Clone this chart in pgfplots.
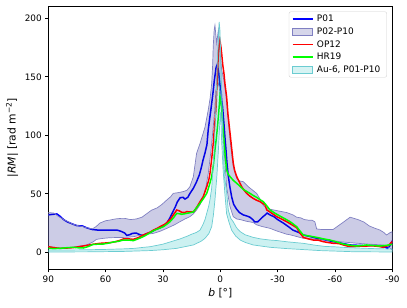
\documentclass[border=0pt]{standalone}
\usepackage{pgfplots}
\pgfplotsset{compat=1.18}
\usepackage{fontspec}
\setmainfont{DejaVu Sans}
\definecolor{bandA}{rgb}{0.1,0.1,0.55}
\definecolor{bandAedge}{rgb}{0.5,0.5,0.76}
\definecolor{bandAleg}{rgb}{0.8,0.8,0.9}
\definecolor{bandB}{rgb}{0.0,0.72,0.72}
\definecolor{bandBedge}{rgb}{0.42,0.8,0.82}
\definecolor{bandBleg}{rgb}{0.8,0.94,0.94}
\definecolor{lime}{rgb}{0,1,0}
\pgfplotsset{
  legP/.style={legend image code/.code={\draw[sharp corners, blue, line width=1.5bp] (0bp,0bp) -- (20bp,0bp);}},
  legO/.style={legend image code/.code={\draw[sharp corners, red, line width=1.5bp] (0bp,0bp) -- (20bp,0bp);}},
  legH/.style={legend image code/.code={\draw[sharp corners, lime, line width=1.5bp] (0bp,0bp) -- (20bp,0bp);}},
  legA/.style={legend image code/.code={\draw[sharp corners, fill=bandAleg, draw=bandAedge, line width=0.7bp] (0bp,-3.3bp) rectangle (20bp,3.3bp);}},
  legB/.style={legend image code/.code={\draw[sharp corners, fill=bandBleg, draw=bandBedge, line width=0.7bp] (0bp,-3.3bp) rectangle (20bp,3.3bp);}},
}
\begin{document}
\begin{tikzpicture}
\begin{axis}[
  at={(0,0)}, anchor=south west,
  width=344bp, height=263.3bp, scale only axis,
  x dir=reverse,
  xmin=-90, xmax=90, ymin=-14.5, ymax=210.5,
  xtick={-90,-60,-30,0,30,60,90},
  ytick={0,50,100,150,200},
  tick align=outside, major tick length=3bp,
  xtick pos=bottom, ytick pos=left,
  axis line style={line width=0.7bp},
  every tick/.style={black, line width=0.7bp},
  /pgf/number format/assume math mode=true,
  ticklabel style={font=\fontsize{8.9}{10.5}\selectfont},
  label style={font=\fontsize{10.8}{12.5}\selectfont},
  xlabel={\textit{b} [°]},
  ylabel={|\textit{RM}| [rad m\textsuperscript{−2}]},
  xlabel style={at={(axis description cs:0.5,-0.092)}, anchor=center},
  ylabel style={at={(axis description cs:-0.105,0.5)}, anchor=center},
  legend style={at={(0.9845,0.979)}, anchor=north east, draw=black!18, rounded corners=2bp,
    fill=white, fill opacity=0.8, text opacity=1, draw opacity=1,
    font=\fontsize{9}{10.5}\selectfont, row sep=2.2bp, inner xsep=3bp, inner ysep=2bp,
    nodes={inner xsep=3.5bp, inner ysep=1.2bp}},
  legend cell align=left,
]
% P01
\addplot[blue, line width=1.5bp, forget plot] coordinates {
(90,32) (87.5,32.5) (85.5,32.8) (84,31) (82,28) (80,26) (77,24) (75,22.8) (72,22.5) (70,21) (67,19.5) (64,19) (60,19) (57,19) (54,19) (52,18) (50,16.5) (49,14.5) (47.5,15) (46,16.2) (44,16.5) (42,15) (40.5,14.5) (38.5,16) (36,17.5) (34,19.5) (31.5,21) (29.5,23) (28,25) (26.5,29) (25,34) (23.5,39) (22.5,43) (21,46.7) (19.5,47) (18.5,45.5) (17,47) (16,50) (14,55) (12.5,60) (11,66) (10,72) (9,79) (8,85) (7,92) (6.3,105) (5.5,115) (5,121) (4.3,130) (3.7,138) (3.2,146) (2.7,152) (2.2,158) (1.7,160) (1.2,157) (0.8,153) (0.2,143) (-0.3,140) (-0.7,130) (-1.2,124) (-1.6,116) (-2,108) (-2.4,99) (-3,87) (-3.5,76) (-4.2,65) (-5,56) (-6,47) (-7,41) (-8.5,37) (-10,34) (-12,32) (-14,31) (-15.5,30) (-17,28) (-18,26) (-19.5,26) (-20.5,27.5) (-22,30) (-23.5,32) (-24.5,33.5) (-26,32) (-28,30.5) (-30,28) (-33,25) (-36,21.5) (-38,19) (-41,17) (-43.5,14.8) (-47,13.5) (-50.5,12) (-55,10.5) (-59,9.1) (-63,8) (-68,6.3) (-72,6) (-76.6,5.7) (-80,6) (-83,5.5) (-85.3,4.8) (-87.5,3.5) (-88.5,5) (-90,10)
};
% P02-P10 band
\addplot[fill=bandA, fill opacity=0.22, draw=bandAedge, line width=0.7bp, forget plot] coordinates {
(90,34) (87,33.5) (85,31) (82,28) (80,26.5) (77,24) (75,23) (72,22) (70,21) (67,20) (65,22) (63,25) (60,27) (58,27.5) (55,28.5) (52,29) (50,29) (47,28) (44,28.5) (41,30) (38.5,33) (36,36) (33,38) (30.5,41) (28,44.7) (26,47.5) (24.6,50.4) (22,51) (19.4,51.9) (17.5,53) (15.9,56) (14.1,64.7) (12.4,84.6) (10.6,93) (8.0,107) (6.3,121.7) (5.3,132) (4.5,144.4) (4,160) (3.7,176) (3.2,190) (2.8,194) (2.3,185) (1.9,178.6) (1.4,185) (1.0,190) (0.6,182) (0.2,173) (-0.7,156) (-1.9,147) (-3.3,130) (-4.2,112) (-5.1,96) (-6,83) (-6.8,73) (-8.6,63) (-10,61) (-12,60.4) (-13.5,58) (-14.7,56) (-17,53) (-19,50.4) (-21,45) (-22.5,40) (-24.3,37.5) (-27,36.5) (-30,35.5) (-34.7,34) (-38,32) (-40,30) (-42,29.5) (-44,28) (-46,27.5) (-48,27.5) (-49.5,26) (-50.4,20) (-53,19.5) (-56,19.5) (-59,19.5) (-62,23) (-65,26.5) (-67.9,30) (-70,29) (-72,28) (-75,26) (-78,22.5) (-81,20.5) (-83.6,19) (-85.5,17) (-87,14.8) (-88.5,16.5) (-90,17.7)
(-90,2) (-88.5,4) (-87,5.5) (-85.3,6.3) (-80,6.8) (-76.6,7.1) (-72,7.7) (-67.9,8.3) (-63,9) (-59.1,10) (-55,10.5) (-50.4,11.1) (-46,11.8) (-43.4,12) (-40,13.5) (-36.5,15) (-34.7,15.5) (-30,18) (-26,20.5) (-22,22) (-19,23.5) (-17.2,25.5) (-13.8,26.5) (-10.4,28) (-8.6,28.5) (-6.8,30.5) (-5.1,39) (-4.2,47) (-3.3,56) (-2.5,75) (-1.6,96) (-0.8,115) (-0.2,130) (0.5,140) (1.0,144.4) (1.7,142) (2.3,138.7) (3,120) (3.7,107) (5,85) (6.3,67.5) (7.5,56) (8.9,47.6) (10.5,41) (12.4,36.2) (14,33) (15.9,30.5) (18.5,28.5) (21.1,26.2) (24,23.5) (28,20.5) (31.5,18) (35,16.2) (38.5,15.5) (42,14.5) (45,13.5) (49,12.8) (53,12.7) (57.7,12.5) (61,12) (64.8,11.1) (66.5,9) (70,6.3) (75,5) (80.4,3.4) (85,4) (90,4.8)
} -- cycle;
% OP12
\addplot[red, line width=1.5bp, forget plot] coordinates {
(90,4.8) (87,4) (84,3.4) (80,3.7) (77,4) (74,4.8) (71.7,5.4) (68,6.5) (66,7) (63,7.7) (60,8) (57.7,8.3) (55,9) (52,10.5) (50.8,11.4) (48,11.5) (45.5,11.1) (43,12.5) (40.3,14.8) (37,17) (35,19) (33,20.5) (31.6,21.9) (29,24) (28,25.4) (26,28.5) (24.6,31.9) (23.5,34.5) (22.8,36.2) (21.5,35.5) (20.2,34.2) (18.5,34) (17.6,34.8) (16,34.5) (14.1,34.5) (12.5,38) (10.6,43.3) (8.9,47.6) (7.1,56) (6,62) (5.4,67.5) (4.5,80) (3.7,93) (3,108) (2.3,121.7) (1.7,145) (1.0,170) (0.5,178) (0.2,181) (-0.3,176) (-0.7,170) (-1.3,160) (-1.9,153) (-2.5,143) (-3.3,133) (-4,118) (-5.1,101.7) (-6,88) (-6.8,76) (-7.5,70) (-8.6,64.7) (-10,60) (-11.2,56) (-12.5,53) (-13.8,50.4) (-15.5,48) (-17.3,46) (-19,44.5) (-20.8,43.3) (-22,42) (-23.4,40.5) (-24.3,36.2) (-26,34.5) (-29.5,30.5) (-32,28.5) (-34.7,26.2) (-37,24) (-40,21) (-41.5,17) (-43.4,12.8) (-46,11.5) (-48.7,10.5) (-51,10.5) (-53.9,9.1) (-56,8.5) (-59.1,7.7) (-62,7.5) (-65,6) (-67.9,4.8) (-71,5) (-74,5.3) (-76.6,5.4) (-80,5.5) (-83,5) (-85.3,4.3) (-88,6) (-90,9.1)
};
% HR19
\addplot[lime, line width=1.5bp, forget plot] coordinates {
(90,3.4) (87,3.2) (83.9,3.4) (80,4) (76.9,4.3) (74,3.8) (71.7,3.7) (69,5) (66.5,6.8) (63,7) (61.2,7.1) (58,8) (56,8.8) (53,9.5) (50.8,10.5) (48,10.5) (45.5,10) (43,11.5) (40.3,13.4) (37.5,16) (35,18.5) (32,20.5) (29.8,21.9) (28,24) (26.3,26.2) (24.5,29.5) (22.8,33.3) (21.5,33) (20.2,32.5) (18.5,33) (17.6,33.3) (16,33.8) (14.1,34.5) (12.5,38) (10.6,41.9) (8.8,46) (7.1,50.4) (5.8,57) (4.5,64.7) (3.6,75) (2.8,87.5) (2.1,97) (1.5,107) (0.8,120) (0.2,133) (-0.2,130) (-0.7,124.5) (-1.3,110) (-1.9,96) (-2.6,82) (-3.3,70.4) (-4,67) (-5.1,64.7) (-6.8,61.5) (-8.6,59) (-10.3,56.5) (-12,53.8) (-13.8,52) (-15.5,50.4) (-17.3,48.5) (-19,47) (-20.8,45) (-22.5,43.3) (-24.2,40) (-26,36.2) (-28.5,33.5) (-31.2,31) (-34,28.5) (-36.5,26.2) (-38.3,24) (-40,21.9) (-41.8,18) (-43.4,14.8) (-47,13.8) (-50.4,12.8) (-54,11.5) (-57.4,10.5) (-61,8.8) (-64.4,7.1) (-68,6) (-71.3,5.4) (-74,5.8) (-76.6,6.3) (-80,5.8) (-83.5,5.4) (-87,6) (-90,6.8)
};
% Au-6 band
\addplot[fill=bandB, fill opacity=0.2, draw=bandBedge, line width=0.7bp, forget plot] coordinates {
(90,2) (80,2) (70,2.2) (60,2.5) (50,3) (45,3.4) (40,4.3) (36.8,4.8) (33,6) (30,7) (27,8.5) (24,10) (21,11.5) (19.4,12.5) (17,14) (15,15.5) (12.5,17) (10.6,19) (9,24) (8,28) (7,34) (6,40) (5.4,45) (4.5,55) (4,68) (3.3,85) (2.8,105) (2.3,125) (1.9,145) (1.5,165) (1.0,183) (0.6,197) (0.2,190) (-0.3,165) (-0.8,130) (-1.3,100) (-1.8,80) (-2.4,63) (-3.4,50) (-4.2,36) (-5.5,29) (-6.8,26) (-8.5,21) (-10.4,17.7) (-13,15) (-17.2,12.8) (-21,11.5) (-26,10.5) (-30,10) (-35,9) (-40,8.2) (-43.4,7.7) (-50,6) (-55,5) (-59.1,4.8) (-65,4.2) (-70,3.8) (-75,3.5) (-80,3.2) (-85,3) (-90,2.8)
(-90,0.3) (-70,0.5) (-52,1.5) (-45,2.2) (-34.7,3.2) (-26,4.3) (-17.2,6.3) (-13,8.5) (-10.4,10.5) (-8,14) (-5.9,19) (-4.5,26) (-3.3,33) (-2.4,50) (-1.5,70) (-0.7,95) (-0.2,120) (0.3,110) (1.0,87.5) (1.8,65) (2.8,44.7) (3.6,32) (4.5,22) (6,16) (8.0,12) (10,9.5) (14.1,6.3) (18,5) (22.8,3.4) (30,2.2) (36.8,1.5) (50,0.8) (70,0.4) (90,0.3)
} -- cycle;
% legend
\addlegendimage{legP}
\addlegendentry{P01}
\addlegendimage{legA}
\addlegendentry{P02-P10}
\addlegendimage{legO}
\addlegendentry{OP12}
\addlegendimage{legH}
\addlegendentry{HR19}
\addlegendimage{legB}
\addlegendentry{Au-6, P01-P10}
\end{axis}
\pgfresetboundingbox
\path (-48.3bp,-38.7bp) rectangle (358.7bp,269.3bp);
\end{tikzpicture}
\end{document}
